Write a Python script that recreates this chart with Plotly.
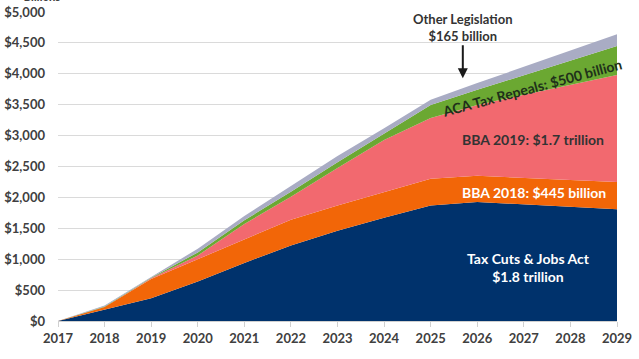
import plotly.graph_objects as go

years = [2017, 2018, 2019, 2020, 2021, 2022, 2023, 2024, 2025, 2026, 2027, 2028, 2029]
tcja = [0, 180, 370, 640, 940, 1220, 1460, 1670, 1870, 1925, 1890, 1850, 1810]
bba2018 = [0, 45, 310, 360, 370, 420, 410, 415, 430, 425, 420, 430, 440]
bba2019 = [0, 0, 10, 60, 260, 370, 605, 845, 985, 1145, 1350, 1540, 1730]
aca = [0, 10, 8, 50, 60, 80, 95, 100, 210, 245, 320, 400, 470]
other = [0, 15, 15, 60, 70, 100, 100, 90, 85, 110, 130, 160, 190]

y_ticks = [0, 500, 1000, 1500, 2000, 2500, 3000, 3500, 4000, 4500, 5000]
y_labels = ["$0", "$500", "$1,000", "$1,500", "$2,000", "$2,500", "$3,000",
            "$3,500", "$4,000", "$4,500", "$5,000"]

series = [
    ("Tax Cuts & Jobs Act", tcja, "#00326c"),
    ("BBA 2018", bba2018, "#f26608"),
    ("BBA 2019", bba2019, "#f2696f"),
    ("ACA Tax Repeals", aca, "#6ba832"),
    ("Other Legislation", other, "#a9acc4"),
]

fig = go.Figure()
for name, vals, col in series:
    fig.add_trace(go.Scatter(
        x=years, y=vals, name=name, stackgroup="one", mode="lines",
        line=dict(width=0, color=col), fillcolor=col, showlegend=False,
    ))

FONT = "Lato"
fig.update_layout(
    width=639, height=359,
    margin=dict(l=58, r=22, t=12, b=38, autoexpand=False),
    paper_bgcolor="white", plot_bgcolor="white",
    font=dict(family=FONT, size=13, color="#404040"),
    xaxis=dict(
        range=[2017, 2029], tickmode="array", tickvals=years,
        ticktext=[str(y) for y in years], showgrid=False, automargin=False,
        showline=True, linecolor="#d0d0d0", linewidth=1,
        ticks="outside", ticklen=5, tickcolor="#d0d0d0",
        tickfont=dict(family=FONT, size=13, color="#404040", weight="bold"),
        zeroline=False,
    ),
    yaxis=dict(
        range=[0, 5000], tickmode="array", tickvals=y_ticks, ticktext=y_labels,
        showgrid=True, gridcolor="#dadada", gridwidth=1, zeroline=False,
        automargin=False,
        tickfont=dict(family=FONT, size=13, color="#404040", weight="bold"),
        ticks="", ticklabelstandoff=12,
    ),
)

bold = dict(family=FONT, size=13, weight="bold")
fig.add_annotation(xref="paper", yref="paper", x=-0.064, y=1.019,
                   xanchor="left", yanchor="bottom", showarrow=False,
                   text="<i>Billions</i>",
                   font=dict(family=FONT, size=12, color="#404040", weight="bold"))
fig.add_annotation(x=2025.69, y=3930, text="Other Legislation<br>$165 billion",
                   showarrow=True, ax=0, ay=-51, arrowhead=2, arrowsize=1,
                   arrowwidth=2, arrowcolor="#1a1a1a",
                   font=dict(bold, color="#333333"))
fig.add_annotation(x=2027.18, y=3786, text="ACA Tax Repeals: $500 billion",
                   showarrow=False, textangle=-15,
                   font=dict(bold, size=14, color="#20301a"))
fig.add_annotation(x=2027.2, y=2929, text="BBA 2019: $1.7 trillion",
                   showarrow=False, font=dict(bold, size=14, color="#333333"))
fig.add_annotation(x=2027.22, y=2087, text="BBA 2018: $445 billion",
                   showarrow=False, font=dict(bold, size=14, color="white"))
fig.add_annotation(x=2027.1, y=870, text="Tax Cuts & Jobs Act<br>$1.8 trillion",
                   showarrow=False, font=dict(bold, size=14, color="white"))

fig.write_html("out.html", config={"displayModeBar": False},
               post_script="document.body.style.margin='0';")
